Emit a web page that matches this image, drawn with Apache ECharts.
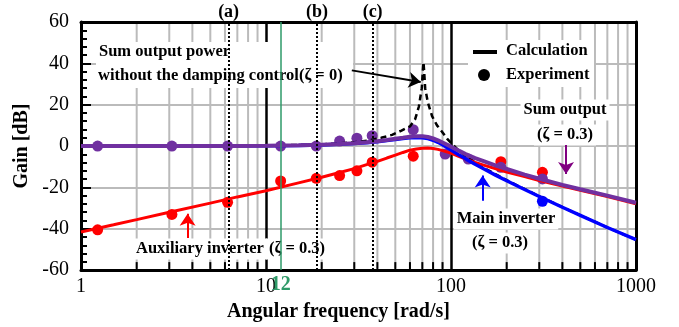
<!DOCTYPE html>
<html>
<head>
<meta charset="utf-8">
<script src="https://cdn.jsdelivr.net/npm/echarts@6/dist/echarts.min.js"></script>
<style>
html, body { margin: 0; padding: 0; background: #fff; }
#chart { width: 679px; height: 327px; }
</style>
</head>
<body>
<div id="chart"></div>
<script>
// calculation curves (zeta = 0.3)
var freq = [1, 1.5, 2, 3, 5, 7, 10, 15, 20, 25, 30, 35, 40, 45, 50, 55, 60, 65, 70, 75, 80, 85, 90, 100, 110, 120, 135, 150, 175, 200, 250, 300, 400, 500, 700, 1000];
var gainMain = [0, 0, 0, 0.01, 0.03, 0.07, 0.14, 0.3, 0.5, 0.85, 1.2, 1.65, 2.1, 2.7, 3.2, 3.7, 4.0, 4.1, 4.0, 3.6, 2.8, 1.8, 0.6, -1.9, -4.2, -6.2, -8.8, -11.0, -14.2, -16.8, -21.0, -24.4, -29.6, -33.5, -39.4, -45.3];
var gainAux = [-41.6, -38.1, -35.6, -32.0, -27.6, -24.6, -21.6, -17.8, -15.1, -12.8, -10.9, -9.0, -7.4, -5.8, -4.4, -3.1, -2.0, -1.4, -1.1, -1.0, -1.2, -1.6, -2.2, -3.4, -5.0, -6.3, -7.9, -9.2, -11.0, -12.6, -14.8, -16.7, -19.3, -21.4, -24.4, -27.9];
var gainSum = [0, 0, 0, 0.02, 0.04, 0.08, 0.15, 0.38, 0.6, 0.95, 1.3, 1.8, 2.3, 2.9, 3.5, 4.0, 4.5, 4.8, 4.8, 4.4, 3.7, 2.8, 1.7, -0.3, -2.2, -3.9, -5.8, -7.3, -9.5, -11.1, -13.8, -15.8, -18.8, -20.9, -24.0, -27.4];

// sum output without damping control (zeta = 0)
var undampedFreq = [1, 5, 10, 20, 30, 36, 42, 48, 54, 60, 64, 67, 69.5, 70.5, 71, 71.5, 72.5, 75, 79, 84, 89, 96, 100, 110, 120, 150, 200, 300, 500, 700, 1000];
var undampedGain = [0, 0.1, 0.2, 0.8, 1.8, 2.7, 4.0, 5.4, 7.5, 9.5, 13.0, 19.0, 28.0, 37.0, 40.5, 37.0, 28.0, 21.0, 14.5, 10.0, 7.2, 3.2, 1.5, -2.2, -5.0, -10.5, -16.5, -24.3, -33.5, -39.4, -45.3];

// experiment
var expSumFreq = [1.23, 3.1, 6.2, 12, 18.7, 25, 31, 37.5, 62.5, 93, 124, 186, 312];
var expSum = [0, 0, 0, 0, 0, 2.4, 3.8, 5.0, 7.9, -3.9, -6.3, -10.3, -15.9];
var expAuxFreq = [1.23, 3.1, 6.2, 12, 18.7, 25, 31, 37.5, 62.5, 186, 312];
var expAux = [-40.5, -33.1, -27.2, -16.9, -15.6, -14.3, -12.0, -7.8, -4.9, -7.6, -12.7];
var expMainFreq = [312];
var expMain = [-26.7];

// marked frequencies
var markFreq = [6.28, 18.85, 37.7];
var markNames = ['(a)', '(b)', '(c)'];
var greenFreq = 12;
var minorFreq = [2, 3, 4, 5, 6, 7, 8, 9, 20, 30, 40, 50, 60, 70, 80, 90, 200, 300, 400, 500, 600, 700, 800, 900];

var serif = '"Liberation Serif", "Times New Roman", serif';
var cPurple = '#7030a0', cRed = '#ff0000', cBlue = '#0000ff', cGreen = '#2e9a68';

function pairs(xs, ys) {
    return xs.map(function (x, i) { return [x, ys[i]]; });
}

var chart = echarts.init(document.getElementById('chart'));

var vlines = markFreq.map(function (f, i) {
    return [{
        coord: [f, -60],
        lineStyle: {color: '#000', type: [2, 2], width: 2},
        label: {show: true, position: 'end', formatter: markNames[i], distance: 1,
            fontFamily: serif, fontWeight: 'bold', fontSize: 18, color: '#000'}
    }, {coord: [f, 60]}];
});
vlines.push([{
    coord: [greenFreq, -60],
    lineStyle: {color: cGreen, type: 'solid', width: 1.5},
    label: {show: true, position: 'start', formatter: '12', distance: 5,
        fontFamily: serif, fontWeight: 'bold', fontSize: 20, color: cGreen}
}, {coord: [greenFreq, 60]}]);

function arrow(x0, y0, x1, y1, color) {
    return [{coord: [x0, y0], lineStyle: {color: color, width: 2, type: 'solid'}}, {coord: [x1, y1]}];
}

function txt(s, x, y, align, bg) {
    return {
        type: 'text', z: 1,
        style: {
            text: s, x: x, y: y, align: align || 'left', verticalAlign: 'middle',
            font: 'bold 16.5px ' + serif, fill: '#000',
            backgroundColor: bg ? '#fff' : null, padding: bg ? [2, 3] : 0
        }
    };
}

var option = {
    animation: false,
    grid: {left: 81, right: 43, top: 22, bottom: 55},
    xAxis: [{
        type: 'log', logBase: 10, min: 1, max: 1000,
        axisLine: {onZero: false, lineStyle: {color: '#000', width: 3}},
        axisTick: {show: false},
        axisLabel: {
            formatter: function (v) { return String(Math.round(v)); },
            color: '#000', fontFamily: serif, fontSize: 20, margin: 7
        },
        splitLine: {show: true, lineStyle: {color: '#000', width: 2.5}},
        name: 'Angular frequency [rad/s]', nameLocation: 'middle', nameGap: 25,
        nameTextStyle: {color: '#000', fontFamily: serif, fontWeight: 'bold', fontSize: 20, padding: [0, 40, 0, 0]}
    }, {
        type: 'log', logBase: 10, min: 1, max: 1000, position: 'top',
        axisLine: {onZero: false, lineStyle: {color: '#000', width: 3}},
        axisTick: {show: false}, axisLabel: {show: false}, splitLine: {show: false}
    }],
    yAxis: [{
        type: 'value', min: -60, max: 60, interval: 20,
        axisLine: {show: true, onZero: false, lineStyle: {color: '#000', width: 3}},
        axisTick: {show: true, inside: true, length: 10, lineStyle: {color: '#000', width: 2}},
        minorTick: {show: true, splitNumber: 5, length: 6, lineStyle: {color: '#000', width: 2}},
        axisLabel: {color: '#000', fontFamily: serif, fontSize: 20, margin: 12},
        splitLine: {show: true, showMinLine: false, showMaxLine: false, lineStyle: {color: '#bbbbbb', width: 2}},
        name: 'Gain [dB]', nameLocation: 'middle', nameGap: 46,
        nameTextStyle: {color: '#000', fontFamily: serif, fontWeight: 'bold', fontSize: 20}
    }, {
        type: 'value', min: -60, max: 60, interval: 20, position: 'right',
        axisLine: {show: true, onZero: false, lineStyle: {color: '#000', width: 3}},
        axisTick: {show: false}, axisLabel: {show: false}, splitLine: {show: false}
    }],
    graphic: [
        {type: 'rect', z: 1, shape: {x: 96, y: 42, width: 257, height: 46}, style: {fill: '#fff'}},
        txt('Sum output power', 99, 52),
        txt('without the damping control(\u03b6 = 0)', 98, 76),
        {type: 'rect', z: 1, shape: {x: 468, y: 40, width: 126, height: 47}, style: {fill: '#fff'}},
        {type: 'line', z: 1, shape: {x1: 473, y1: 52, x2: 497, y2: 52}, style: {stroke: '#000', lineWidth: 4}},
        {type: 'circle', z: 1, shape: {cx: 484, cy: 75, r: 6}, style: {fill: '#000'}},
        txt('Calculation', 506, 51),
        txt('Experiment', 506, 75),
        txt('Sum output', 565, 110, 'center', true),
        txt('(\u03b6 = 0.3)', 565, 135, 'center', true),
        txt('Main inverter', 506, 219, 'center', true),
        txt('(\u03b6 = 0.3)', 500, 243, 'center', true),
        txt('Auxiliary inverter', 133, 249, 'left', true),
        txt('(\u03b6 = 0.3)', 297, 249, 'center', true)
    ],
    series: [{
        // minor log grid lines and bottom ticks
        type: 'custom', z: 0, silent: true,
        data: minorFreq.map(function (f) { return [f]; }),
        renderItem: function (params, api) {
            var lo = api.coord([api.value(0), -60]);
            var hi = api.coord([api.value(0), 60]);
            return {
                type: 'group', children: [{
                    type: 'line', shape: {x1: lo[0], y1: lo[1] - 2, x2: hi[0], y2: hi[1] + 2},
                    style: {stroke: '#bbbbbb', lineWidth: 2}
                }, {
                    type: 'line', shape: {x1: lo[0], y1: lo[1], x2: lo[0], y2: lo[1] - 8},
                    style: {stroke: '#000', lineWidth: 2}
                }]
            };
        }
    }, {
        type: 'line', z: 0, data: [], silent: true,
        markLine: {silent: true, symbol: 'none', animation: false, data: vlines}
    }, {
        name: 'undamped', type: 'line', data: pairs(undampedFreq, undampedGain),
        showSymbol: false, symbol: 'none',
        lineStyle: {color: '#000', width: 2.5, type: [6, 4]}
    }, {
        name: 'aux', type: 'line', data: pairs(freq, gainAux),
        showSymbol: false, symbol: 'none',
        lineStyle: {color: cRed, width: 3}
    }, {
        name: 'main', type: 'line', data: pairs(freq, gainMain),
        showSymbol: false, symbol: 'none',
        lineStyle: {color: cBlue, width: 3.5}
    }, {
        name: 'sum', type: 'line', data: pairs(freq, gainSum),
        showSymbol: false, symbol: 'none',
        lineStyle: {color: cPurple, width: 4}
    }, {
        type: 'scatter', data: pairs(expAuxFreq, expAux), symbol: 'circle', symbolSize: 11,
        itemStyle: {color: cRed, opacity: 1}
    }, {
        type: 'scatter', data: pairs(expMainFreq, expMain), symbol: 'circle', symbolSize: 11,
        itemStyle: {color: cBlue, opacity: 1}
    }, {
        type: 'scatter', data: pairs(expSumFreq, expSum), symbol: 'circle', symbolSize: 11,
        itemStyle: {color: cPurple, opacity: 1}
    }, {
        type: 'line', z: 3, data: [], silent: true,
        markLine: {
            silent: true, animation: false, symbol: ['none', 'arrow'], symbolSize: 12,
            label: {show: false},
            data: [
                arrow(29.1, 36.6, 68.6, 31.0, '#000'),
                arrow(418.6, 0.5, 418.6, -13.5, '#800080'),
                arrow(148.3, -26.4, 148.3, -14.3, cBlue),
                arrow(3.77, -44.5, 3.77, -32.8, cRed)
            ]
        }
    }]
};

chart.setOption(option);
</script>
</body>
</html>
